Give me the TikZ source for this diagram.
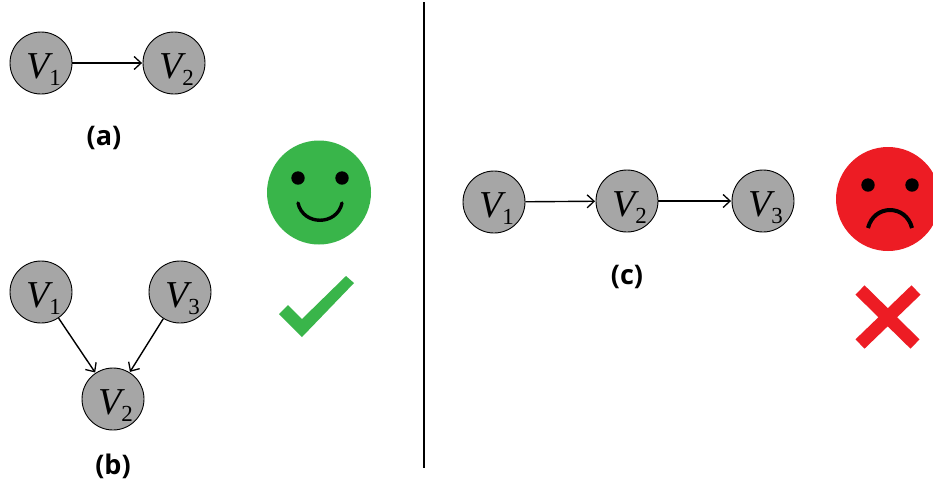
\documentclass[tikz,border=0pt]{standalone}
\usepackage{fontspec}
\setmainfont{Open Sans}
\newfontfamily\vfont{Liberation Serif}
\usetikzlibrary{arrows.meta}
\definecolor{nodegray}{RGB}{166,166,166}
\definecolor{smilegreen}{RGB}{57,181,74}
\definecolor{sadred}{RGB}{237,28,36}
\newcommand{\vlab}[1]{\kern5pt\raisebox{-15pt}[0pt][0pt]{{\vfont\fontsize{38}{38}\selectfont\itshape V}\raisebox{-7pt}{\vfont\fontsize{23}{23}\selectfont #1}}}
\tikzset{
  x=1pt,y=-1pt,
  vertex/.style={circle,draw=black,fill=nodegray,line width=0.9pt,minimum size=62pt,inner sep=0pt},
  link/.style={draw=black,line width=1.4pt,-{Straight Barb[length=7pt,width=13pt,line width=1.3pt]},shorten >=0.5pt},
  caption/.style={font=\fontsize{27}{27}\selectfont\bfseries,inner sep=0pt},
  feature/.style={line width=3.4pt,draw=black,line cap=round},
  eye/.style={fill=black},
  divider/.style={draw=black,line width=1.3pt}
}
\begin{document}
\begin{tikzpicture}
\useasboundingbox (0,0) rectangle (933,483);
\fill[white] (0,0) rectangle (933,483);
% divider
\coordinate (top) at (424,2);
\coordinate (bot) at (424,468);
\draw[divider] (top) -- (bot);
% (a)
\node[vertex] (a1) at (41,63) {\vlab{1}};
\node[vertex] (a2) at (174,63) {\vlab{2}};
\draw[link] (a1) -- (a2);
\node[caption] (capa) at (104,138) {(a)};
% (b)
\node[vertex] (b1) at (41,292) {\vlab{1}};
\node[vertex] (b3) at (180,292) {\vlab{3}};
\node[vertex] (b2) at (113,399) {\vlab{2}};
\draw[link] (b1) -- (b2);
\draw[link] (b3) -- (b2);
\node[caption] (capb) at (113,466) {(b)};
% (c)
\node[vertex] (c1) at (494,202) {\vlab{1}};
\node[vertex] (c2) at (627,201) {\vlab{2}};
\node[vertex] (c3) at (763,201) {\vlab{3}};
\draw[link] (c1) -- (c2);
\draw[link] (c2) -- (c3);
\node[caption] (capc) at (627,277) {(c)};
% smiley
\fill[smilegreen] (319,192.5) circle[radius=52];
\fill[eye] (298,178) circle[radius=6.7];
\fill[eye] (342,178) circle[radius=6.7];
\draw[feature] (298,203) .. controls (303,226) and (337,226) .. (342,203);
% check
\fill[smilegreen] (279,314) -- (288,305) -- (302,319) -- (346,276) -- (354,283) -- (302,337) -- cycle;
% sad
\fill[sadred] (888,199) circle[radius=52];
\fill[eye] (868,185) circle[radius=6.7];
\fill[eye] (912,185) circle[radius=6.7];
\draw[feature,line width=4pt,line cap=butt] (868,228) .. controls (874,204) and (906,204) .. (912,228);
% cross
\draw[sadred,line width=13pt] (860,290) -- (915,344);
\draw[sadred,line width=13pt] (916,290) -- (860,344);
\end{tikzpicture}
\end{document}
